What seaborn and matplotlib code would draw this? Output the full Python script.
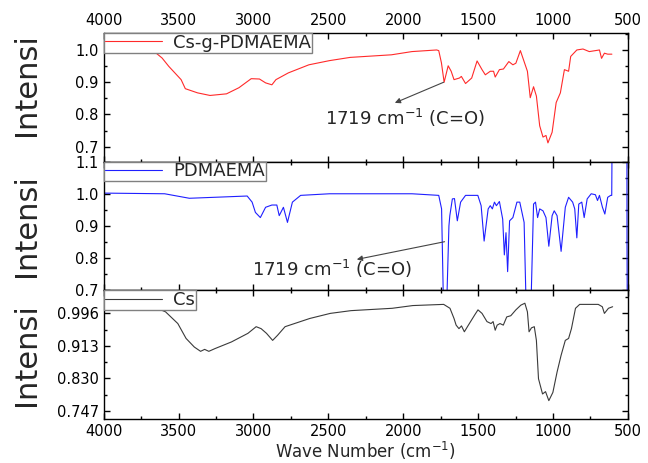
import matplotlib
matplotlib.use('Agg')
import matplotlib.pyplot as plt
import seaborn as sns
from matplotlib.ticker import MultipleLocator, FixedLocator

# Cs-g-PDMAEMA spectrum (wave number, intensity)
csg_wn = [4000, 3800, 3670, 3610, 3565, 3483, 3455, 3373, 3290, 3180, 3097, 3015, 2960, 2919,
          2877, 2850, 2767, 2630, 2492, 2354, 2079, 1942, 1777, 1763, 1745, 1727, 1700,
          1680, 1661, 1625, 1612, 1584, 1543, 1507, 1474, 1452, 1419, 1397, 1386, 1358,
          1331, 1295, 1268, 1248, 1218, 1193, 1171, 1152, 1130, 1111, 1089, 1067, 1047,
          1034, 1006, 979, 951, 924, 896, 882, 841, 800, 758, 717, 690, 676, 657, 635, 607]
csg_int = [1.0, 1.0, 0.998, 0.975, 0.949, 0.908, 0.880, 0.867, 0.859, 0.864, 0.883, 0.911, 0.910,
           0.898, 0.892, 0.908, 0.929, 0.954, 0.967, 0.977, 0.985, 0.995, 1.0, 0.998, 0.96,
           0.900, 0.951, 0.934, 0.908, 0.913, 0.918, 0.896, 0.913, 0.966, 0.939, 0.923,
           0.934, 0.934, 0.916, 0.939, 0.941, 0.964, 0.954, 0.959, 0.998, 0.964, 0.934,
           0.852, 0.886, 0.857, 0.765, 0.730, 0.735, 0.712, 0.745, 0.837, 0.867, 0.939,
           0.934, 0.980, 1.0, 1.003, 0.995, 0.998, 1.0, 0.974, 0.99, 0.987, 0.987]

# PDMAEMA spectrum
pd_wn = [4000, 3990, 3593, 3428, 3207, 3042, 3009, 2987, 2954, 2919, 2877, 2844, 2828,
         2800, 2773, 2740, 2685, 2492, 1942, 1763, 1744, 1730, 1712, 1695, 1689, 1672,
         1658, 1639, 1617, 1584, 1502, 1480, 1460, 1433, 1419, 1405, 1391, 1378, 1358,
         1336, 1325, 1314, 1303, 1290, 1268, 1241, 1222, 1193, 1178, 1149, 1130, 1117,
         1103, 1089, 1067, 1047, 1028, 1006, 992, 973, 946, 918, 896, 869, 855, 841, 828,
         808, 792, 772, 745, 717, 703, 690, 670, 654, 635, 615, 608, 604, 507, 506, 504]
pd_int = [1.0, 1.002, 1.0, 0.986, 0.99, 0.993, 0.974, 0.942, 0.926, 0.958, 0.965, 0.965,
          0.932, 0.958, 0.911, 0.974, 0.995, 1.0, 1.0, 0.995, 0.953, 0.62, 0.62, 0.90,
          0.932, 0.984, 0.985, 0.916, 0.974, 0.995, 0.995, 0.963, 0.853, 0.953, 0.963,
          0.953, 0.974, 0.963, 0.976, 0.921, 0.81, 0.879, 0.758, 0.916, 0.926, 0.974,
          0.974, 0.911, 0.62, 0.62, 0.968, 0.974, 0.926, 0.953, 0.947, 0.926, 0.837,
          0.932, 0.947, 0.932, 0.821, 0.958, 0.989, 0.974, 0.953, 0.863, 0.968, 0.974,
          0.926, 0.984, 1.0, 0.997, 0.979, 0.995, 0.958, 0.937, 0.989, 0.995, 0.995,
          1.3, 1.3, 0.84, 0.62]

# Cs spectrum
cs_wn = [4000, 3800, 3670, 3587, 3505, 3450, 3395, 3353, 3326, 3298, 3257, 3147, 3037,
         2982, 2949, 2913, 2872, 2839, 2789, 2624, 2487, 2349, 2074, 1936, 1730, 1688,
         1661, 1647, 1628, 1611, 1592, 1565, 1523, 1501, 1474, 1441, 1414, 1400, 1386,
         1373, 1354, 1332, 1309, 1282, 1248, 1215, 1188, 1171, 1160, 1144, 1125, 1111,
         1097, 1070, 1050, 1028, 1001, 973, 946, 918, 896, 877, 850, 822, 698, 671, 657,
         630, 602]
cs_int = [1.013, 1.013, 1.013, 1.0, 0.970, 0.932, 0.910, 0.899, 0.904, 0.899, 0.906,
          0.923, 0.945, 0.962, 0.957, 0.945, 0.927, 0.940, 0.962, 0.983, 0.996, 1.003,
          1.009, 1.016, 1.019, 1.009, 0.983, 0.966, 0.957, 0.964, 0.949, 0.966, 0.992,
          1.005, 0.996, 0.975, 0.970, 0.975, 0.953, 0.966, 0.970, 0.966, 0.987, 0.990,
          1.005, 1.017, 1.022, 1.0, 0.949, 0.959, 0.962, 0.927, 0.829, 0.790, 0.796,
          0.773, 0.794, 0.846, 0.889, 0.927, 0.932, 0.957, 1.009, 1.019, 1.019, 1.013,
          0.996, 1.009, 1.013]

panels = [
    ('Cs-g-PDMAEMA', csg_wn, csg_int, '#ff2a2a'),
    ('PDMAEMA', pd_wn, pd_int, '#1f1fff'),
    ('Cs', cs_wn, cs_int, '#3a3a3a'),
]

sns.set_theme(style='ticks')
plt.rcParams['font.family'] = ['DejaVu Sans']
plt.rcParams['mathtext.default'] = 'regular'

fig, axes = plt.subplots(3, 1, figsize=(6.48, 4.63), dpi=100, sharex=True)
fig.subplots_adjust(left=0.160, right=0.969, top=0.929, bottom=0.095, hspace=0)

for ax, (name, wn, inten, col) in zip(axes, panels):
    sns.lineplot(x=wn, y=inten, ax=ax, color=col, lw=0.8, label=name, estimator=None)
    ax.set_xlim(4000, 500)
    ax.xaxis.set_major_locator(MultipleLocator(500))
    ax.xaxis.set_minor_locator(MultipleLocator(250))
    ax.tick_params(which='both', direction='in', top=True, right=True, colors='black',
                   labelsize=10.5, width=1)
    ax.tick_params(which='major', length=4)
    ax.tick_params(which='minor', length=2.5)
    for sp in ax.spines.values():
        sp.set_color('black')
        sp.set_linewidth(1)
    ax.set_ylabel('Intensi', fontsize=22)
    ax.yaxis.set_label_coords(-0.12, 0.5)
    ax.legend(loc='upper left', borderaxespad=0, fancybox=False, edgecolor='gray',
              framealpha=1, fontsize=13, handlelength=3.2, borderpad=0.05,
              handletextpad=0.6)
    ax.get_legend().get_frame().set_linewidth(1)

# top panel
ax = axes[0]
ax.set_ylim(0.654, 1.053)
ax.set_yticks([0.7, 0.8, 0.9, 1.0])
ax.set_yticklabels(['0.7', '0.8', '0.9', '1.0'])
ax.yaxis.set_minor_locator(MultipleLocator(0.05))
ax.tick_params(labeltop=True, labelbottom=False)
ax.yaxis.set_label_coords(-0.12, 0.6)
ax.annotate('', xy=(2056, 0.836), xytext=(1730, 0.900),
            arrowprops=dict(arrowstyle='-|>', color='#444444', lw=0.8,
                            shrinkA=0, shrinkB=0, mutation_scale=8))
ax.text(1990, 0.789, '1719 cm$^{-1}$ (C=O)', ha='center', va='center', fontsize=13)

# middle panel
ax = axes[1]
ax.set_ylim(0.7, 1.1)
ax.set_yticks([0.7, 0.8, 0.9, 1.0, 1.1])
ax.set_yticklabels(['0.7', '0.8', '0.9', '1.0', '1.1'])
ax.yaxis.set_minor_locator(MultipleLocator(0.05))
ax.tick_params(labelbottom=False)
ax.annotate('', xy=(2310, 0.796), xytext=(1724, 0.851),
            arrowprops=dict(arrowstyle='-|>', color='#444444', lw=0.8,
                            shrinkA=0, shrinkB=0, mutation_scale=8))
ax.text(2477, 0.765, '1719 cm$^{-1}$ (C=O)', ha='center', va='center', fontsize=13)

# bottom panel
ax = axes[2]
ax.set_ylim(0.726, 1.055)
ax.set_yticks([0.747, 0.830, 0.913, 0.996])
ax.set_yticklabels(['0.747', '0.830', '0.913', '0.996'])
ax.yaxis.set_minor_locator(FixedLocator([0.7885, 0.8715, 0.9545, 1.0375]))
ax.set_xlabel('Wave Number (cm$^{-1}$)', fontsize=12, labelpad=1)

fig.savefig('out.png', dpi=100)
